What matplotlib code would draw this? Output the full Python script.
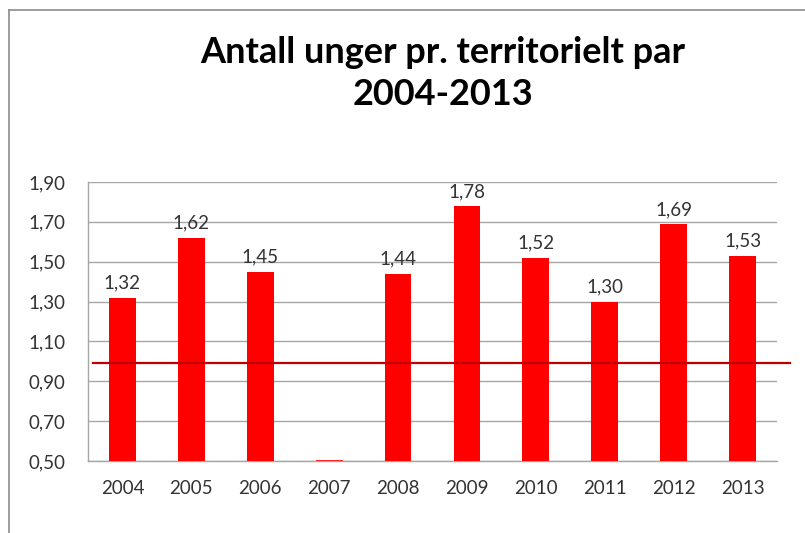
import matplotlib
matplotlib.use('Agg')
import matplotlib.pyplot as plt
from matplotlib.lines import Line2D
import numpy as np

# data
years = ['2004', '2005', '2006', '2007', '2008', '2009', '2010', '2011', '2012', '2013']
unger = [1.32, 1.62, 1.45, 0.0, 1.44, 1.78, 1.52, 1.30, 1.69, 1.53]
ref_level = 0.99  # red horizontal line
yticks = [0.50, 0.70, 0.90, 1.10, 1.30, 1.50, 1.70, 1.90]
title = 'Antall unger pr. territorielt par\n2004-2013'

plt.rcParams['font.family'] = ['Lato', 'DejaVu Sans']

fig = plt.figure(figsize=(8.05, 5.33), dpi=100)
ax = fig.add_axes([0.1093, 0.1351, 0.8559, 0.5234])

ymin, ymax = yticks[0], yticks[-1]
x = np.arange(len(years))
heights = [max(v - ymin, 0) for v in unger]
ax.bar(x, heights, bottom=ymin, width=0.39, color='#FF0000', zorder=3)
# the 2007 value is below the axis minimum, excel shows it as a thin line at the base
for xi, v in zip(x, unger):
    if v <= ymin:
        ax.plot([xi - 0.195, xi + 0.195], [ymin, ymin], color='#FF0000', lw=1.2, zorder=4, solid_capstyle='butt')
    else:
        ax.text(xi, v + 0.03, f'{v:.2f}'.replace('.', ','), ha='center', va='bottom',
                fontsize=13.5, color='#333333')

ax.set_xlim(-0.5, len(years) - 0.5)
ax.set_ylim(ymin, ymax)
ax.set_yticks(yticks)
ax.set_yticklabels([f'{t:.2f}'.replace('.', ',') for t in yticks])
ax.set_xticks(x)
ax.set_xticklabels(years)
ax.tick_params(axis='both', length=0, labelsize=13.5, colors='#333333')
ax.tick_params(axis='y', pad=16.5)
ax.tick_params(axis='x', pad=14)
ax.grid(axis='y', color='#A6A6A6', lw=1, zorder=0)
for s in ['top', 'right']:
    ax.spines[s].set_visible(False)
for s in ['left', 'bottom']:
    ax.spines[s].set_color('#A6A6A6')
    ax.spines[s].set_linewidth(1)

# reference line, sticks out a bit past the plot area on the right
ax.plot([0.007, 1.019], [ref_level, ref_level], color='#C00000', lw=1.6,
        transform=ax.get_yaxis_transform(), clip_on=False, zorder=5)

fig.text(0.55, 0.862, title, ha='center', va='center', fontsize=26,
         fontweight='bold', color='#000000', linespacing=1.35)

# outer chart frame (only left and top edges visible)
fig.add_artist(Line2D([0.0106, 0.0106], [0.0, 0.981], color='#8C8C8C', lw=1.2))
fig.add_artist(Line2D([0.0106, 1.0], [0.981, 0.981], color='#8C8C8C', lw=1.2))

fig.savefig('out.png', dpi=100)
